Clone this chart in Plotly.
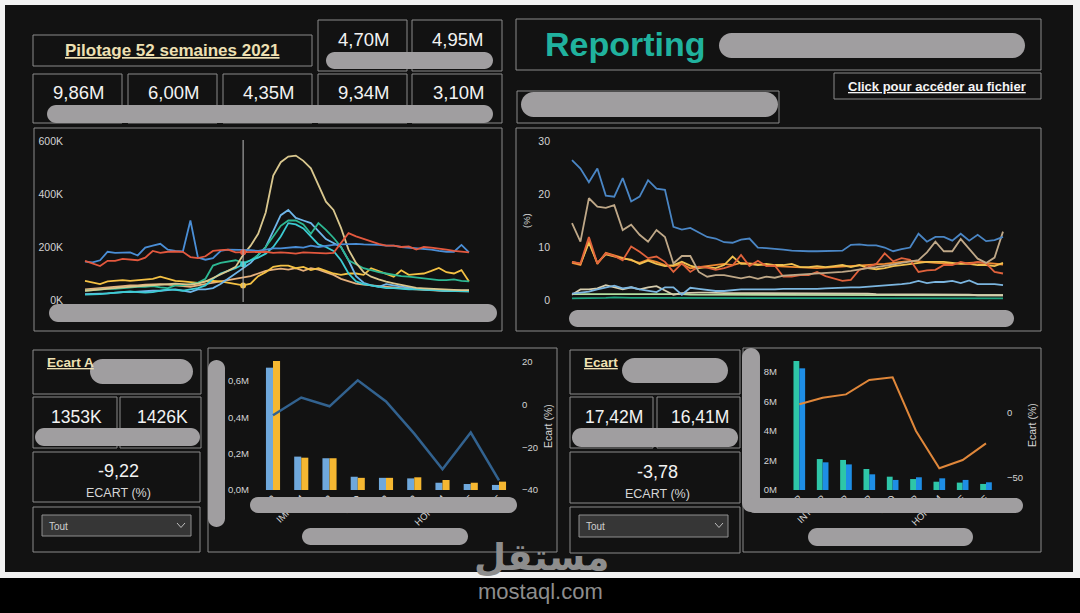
import plotly.graph_objects as go

# ---------------- DATA ----------------
weeks = list(range(1, 53))

# Top-left chart (K)
s_blue = [145,142,150,182,178,178,180,168,198,205,212,190,185,183,300,160,152,158,185,190,
          190,190,188,185,190,195,195,198,200,198,205,200,205,208,210,212,212,210,210,208,
          205,205,200,198,195,192,190,185,182,182,208,180]
s_red = [148,138,128,148,148,155,152,150,160,185,178,182,183,182,162,158,165,185,188,190,
         180,180,180,180,182,178,180,178,175,180,178,176,176,178,215,252,240,230,220,212,
         205,205,200,202,190,200,198,195,190,185,182,180]
s_tan = [35,38,40,42,45,48,50,52,55,58,60,62,62,60,58,62,70,83,95,110,
         125,170,205,250,330,470,520,541,545,525,497,434,371,340,272,190,140,105,88,78,
         69,63,57,52,46,44,42,40,38,38,37,37]
s_lblue = [22,22,24,25,28,30,30,32,34,35,35,38,40,35,30,40,40,45,60,80,
           100,120,140,170,200,260,320,340,310,300,290,260,230,215,200,150,90,65,55,50,
           60,55,50,45,42,40,38,36,35,35,35,35]
s_green = [35,38,40,42,42,45,48,50,50,52,48,45,55,55,60,65,80,130,140,145,
           150,140,150,170,200,240,280,300,300,285,250,290,265,235,200,150,135,120,113,105,
           100,95,90,88,85,80,78,75,75,78,72,70]
s_cyan = [20,20,22,25,28,30,32,30,28,30,35,40,38,35,40,45,55,80,100,110,
          120,135,150,160,175,200,240,290,285,270,240,210,200,185,150,100,70,60,55,50,
          45,45,42,40,40,38,36,36,35,34,34,33]
s_yellow = [72,65,60,70,72,75,72,75,78,80,88,80,72,70,68,65,70,72,70,65,
            60,55,62,90,105,125,130,130,120,125,113,120,110,100,95,100,100,95,120,110,
            100,88,112,95,98,100,110,121,105,100,113,70]
s_peach = [40,42,45,48,50,52,55,55,58,60,60,58,55,52,50,55,60,65,70,75,
           80,85,90,100,110,115,118,115,120,110,120,115,105,95,80,70,62,58,55,52,
           50,48,45,42,40,38,36,35,34,34,33,33]
left_ticks = [0, 200, 400, 600]
left_ticktext = ["0K", "200K", "400K", "600K"]
cursor_week = 22

# Top-right chart (%)
p_blue = [26.4,24.8,22.2,24.8,19.7,19.5,23.0,18.6,19.5,22.6,21.0,20.8,13.8,13.3,13.6,12.8,11.9,11.6,10.9,10.8,
          11.4,11.6,9.9,9.8,9.7,9.5,9.3,9.2,9.2,9.2,9.2,9.2,9.3,10.4,10.5,10.3,10.3,9.9,9.2,9.6,
          9.9,12.5,11.0,11.9,11.9,11.2,12.5,11.2,12.3,11.1,11.3,11.9]
p_tan = [14.5,11.0,19.2,17.6,17.4,17.9,13.2,14.2,12.3,11.0,13.2,11.9,6.9,8.3,8.3,5.3,4.4,4.7,4.7,4.4,
         4.1,4.4,4.0,4.4,4.2,4.6,4.7,4.8,4.8,5.0,5.1,5.2,5.3,5.5,5.8,6.0,6.2,6.4,6.7,7.0,
         7.2,7.5,9.0,11.0,9.2,9.2,11.5,9.6,7.8,7.0,8.0,12.9]
p_red = [7.2,6.9,11.9,6.9,8.8,8.3,7.5,10.1,9.1,7.9,8.2,7.2,5.3,6.9,5.3,6.3,6.1,5.7,6.0,6.5,
         8.5,6.4,7.4,6.4,6.5,4.4,4.4,4.7,4.7,5.3,4.5,4.0,3.6,3.8,5.7,6.2,6.8,8.8,7.3,7.9,
         7.6,5.3,5.6,5.7,6.6,6.6,7.2,6.8,7.2,6.9,5.3,5.0]
p_yellow = [7.2,6.8,10.8,7.0,8.6,8.2,7.8,7.6,6.8,7.4,6.8,6.4,6.6,7.2,6.5,6.0,6.2,6.0,6.6,8.2,
            6.8,6.8,6.6,6.8,6.6,6.6,6.8,6.2,6.2,6.4,6.2,6.4,6.6,6.2,6.6,6.0,5.8,6.0,6.4,6.6,
            6.8,7.0,7.2,7.2,7.2,7.0,6.8,6.8,6.6,6.6,6.4,7.0]
p_orange = [7.0,6.6,11.2,6.8,8.9,8.4,8.0,7.4,7.0,7.6,7.2,6.6,6.4,6.8,6.0,6.2,6.4,6.6,6.8,6.6,
            7.0,6.9,6.8,6.6,6.4,6.3,6.2,6.1,6.0,6.0,6.1,6.2,6.2,6.3,6.4,6.5,6.6,6.8,7.0,7.2,
            7.4,7.3,7.1,7.0,6.9,6.8,6.9,7.0,7.1,7.0,6.8,6.7]
p_lblue = [1.2,1.4,1.6,2.0,2.4,2.7,2.2,2.4,2.0,1.8,1.5,2.4,2.4,1.0,2.3,2.1,1.9,1.7,1.7,1.9,
           2.0,2.0,2.0,1.9,2.0,2.1,2.1,2.0,2.0,2.1,2.2,2.3,2.3,2.4,2.4,2.5,2.6,2.7,2.8,3.0,
           3.2,3.6,3.2,3.4,3.4,3.6,3.2,3.7,3.0,3.0,3.0,2.8]
p_beige = [1.0,2.0,2.0,2.2,2.8,2.4,2.0,2.4,2.0,2.4,2.6,1.8,1.0,1.3,1.4,1.4,1.4,1.3,1.3,1.3,
           1.3,1.3,1.3,1.2,1.2,1.2,1.2,1.2,1.2,1.2,1.2,1.2,1.2,1.2,1.2,1.2,1.1,1.1,1.1,1.0,
           1.0,1.0,1.0,1.0,1.0,1.0,1.0,1.0,0.9,0.9,0.9,0.9]
p_lgreen = [1.1,1.1,1.1,1.2,1.2,1.2,1.1,1.1,1.1,1.1,1.1,1.1,1.1,1.1,1.0,1.0,1.0,1.0,1.0,1.0,
            1.0,1.0,1.0,1.0,1.0,1.0,1.0,1.0,1.0,1.0,1.0,1.0,1.0,1.0,1.0,1.0,1.0,1.0,1.0,0.9,
            0.9,0.9,0.9,0.9,0.9,0.9,0.9,0.9,0.9,0.9,0.9,0.9]
p_teal = [0.3,0.3,0.3,0.4,0.4,0.5,0.4,0.4,0.4,0.4,0.3,0.3,0.3,0.3,0.3,0.3,0.3,0.3,0.3,0.3,
          0.3,0.3,0.3,0.3,0.3,0.3,0.3,0.3,0.3,0.3,0.3,0.3,0.3,0.3,0.3,0.3,0.3,0.3,0.3,0.3,
          0.3,0.3,0.3,0.3,0.3,0.3,0.3,0.3,0.3,0.3,0.3,0.3]
pct_ticks = [0, 10, 20, 30]

# Bottom-left combo (M, %)
cats_left = ["SUP", "IMPRIM", "SEP", "PRO", "SRP", "SAP", "HORS-M", "SEE", "SCE"]
prev_left = [0.674, 0.184, 0.175, 0.073, 0.067, 0.064, 0.040, 0.033, 0.028]
curr_left = [0.711, 0.178, 0.175, 0.067, 0.067, 0.070, 0.055, 0.040, 0.046]
ecart_left = [-5.0, 3.3, -0.8, 11.4, 1.5, -13.6, -30.3, -13.1, -35.5]
left_bar_ticks = [0, 0.2, 0.4, 0.6]
left_bar_ticktext = ["0,0M", "0,2M", "0,4M", "0,6M"]
left_ecart_ticks = [-40, -20, 0, 20]

# Bottom-right combo (M, %)
cats_right = ["SUP", "INTERP", "SEP", "SRP", "PRO", "SAP", "HORS-M", "SEE", "SCE"]
prev_right = [8.72, 2.09, 2.03, 1.42, 0.90, 0.74, 0.56, 0.50, 0.41]
curr_right = [8.22, 1.87, 1.73, 1.06, 0.68, 0.86, 0.79, 0.68, 0.52]
ecart_right = [6.5, 11.6, 14.2, 25.3, 27.4, -14.1, -43.0, -36.6, -23.7]
right_bar_ticks = [0, 2, 4, 6, 8]
right_bar_ticktext = ["0M", "2M", "4M", "6M", "8M"]
right_ecart_ticks = [-50, 0]

kpi_top = ["4,70M", "4,95M"]
kpi_row = ["9,86M", "6,00M", "4,35M", "9,34M", "3,10M"]
kpi_left = ["1353K", "1426K"]
kpi_right = ["17,42M", "16,41M"]
ecart_left_val = "-9,22"
ecart_right_val = "-3,78"

# ---------------- HELPERS ----------------
W, H = 1080, 613
FONT = "Liberation Sans, Arial, sans-serif"
BG = "#121212"
BORDER = "#8a8a8a"
GREY = "#a09ea0"
BEIGE = "#eee0b2"
TICK = "#d4d4d4"


def fx(p):
    return p / W


def fy(p):
    return 1 - p / H


shapes = []
annotations = []


def rect(x0, y0, x1, y1, line=BORDER, fill=None, width=1, layer="below"):
    shapes.append(dict(type="rect", xref="paper", yref="paper",
                       x0=fx(x0), x1=fx(x1), y0=fy(y1), y1=fy(y0),
                       line=dict(color=line, width=width) if line else dict(width=0),
                       fillcolor=fill if fill else "rgba(0,0,0,0)", layer=layer))


def pill(x0, y0, x1, y1, color=GREY):
    r = min((x1 - x0) / 2, (y1 - y0) / 2)
    k = 0.5523 * r

    def P(x, y):
        return f"{x / W:.5f},{1 - y / H:.5f}"
    d = (f"M{P(x0 + r, y0)} L{P(x1 - r, y0)} C{P(x1 - r + k, y0)} {P(x1, y0 + r - k)} {P(x1, y0 + r)} "
         f"L{P(x1, y1 - r)} C{P(x1, y1 - r + k)} {P(x1 - r + k, y1)} {P(x1 - r, y1)} "
         f"L{P(x0 + r, y1)} C{P(x0 + r - k, y1)} {P(x0, y1 - r + k)} {P(x0, y1 - r)} "
         f"L{P(x0, y0 + r)} C{P(x0, y0 + r - k)} {P(x0 + r - k, y0)} {P(x0 + r, y0)} Z")
    shapes.append(dict(type="path", xref="paper", yref="paper", path=d,
                       fillcolor=color, line=dict(width=0), layer="above"))


def line(pts, color, width=1, layer="below"):
    d = "M" + " L".join(f"{x / W:.5f},{1 - y / H:.5f}" for x, y in pts)
    shapes.append(dict(type="path", xref="paper", yref="paper", path=d,
                       line=dict(color=color, width=width), layer=layer))


def text(x, y, s, size, color="#f2f2f2", xanchor="center", angle=0, family=FONT):
    annotations.append(dict(x=fx(x), y=fy(y), xref="paper", yref="paper", text=s,
                            showarrow=False, xanchor=xanchor, yanchor="middle",
                            textangle=angle, font=dict(size=size, color=color, family=family)))


# ---------------- BACKGROUND / BOXES ----------------
rect(0, 0, 1080, 578, line=None, fill="#f2f2f2")
rect(5, 5, 1073, 572, line=None, fill=BG)

# top-left
rect(33, 35, 312, 66)
rect(318, 20, 407, 71)
rect(412, 20, 502, 71)
for bx in [(33, 122), (128, 217), (223, 312), (318, 407), (412, 502)]:
    rect(bx[0], 74, bx[1], 123)
rect(34, 128, 502, 331)
# top-right
rect(516, 19, 1041, 70)
rect(834, 73, 1041, 99)
rect(517, 91, 779, 123)
rect(516, 128, 1041, 331)
# bottom-left
rect(33, 350, 201, 394)
rect(33, 397, 117, 448)
rect(120, 397, 201, 448)
rect(33, 452, 200, 502)
rect(33, 507, 200, 552)
rect(42, 515, 191, 536, line="#8f8f8f", fill="#363636")
rect(208, 348, 557, 552)
# bottom-right
rect(570, 350, 740, 394)
rect(570, 397, 653, 448)
rect(657, 397, 740, 448)
rect(570, 452, 740, 503)
rect(570, 507, 740, 553)
rect(579, 515, 728, 537, line="#8f8f8f", fill="#363636")
rect(743, 348, 1041, 552)

# dropdown chevrons
line([(177, 523), (181, 527.5), (185, 523)], "#bdbdbd", 1)
line([(715, 523), (719, 527.5), (723, 523)], "#bdbdbd", 1)

# cursor in top-left chart
shapes.append(dict(type="line", xref="x", yref="paper", x0=cursor_week, x1=cursor_week,
                   y0=fy(302), y1=fy(140), line=dict(color="#bbbbbb", width=1), layer="above"))

# grey redaction pills
for b in [(326, 52, 493, 69), (47, 105, 493, 123), (719, 33, 1025, 58), (521, 92, 778, 117),
          (49, 304, 497, 322), (569, 310, 1014, 327), (90, 359, 193, 384), (35, 428, 200, 446),
          (208, 360, 225, 527), (250, 497, 517, 513), (302, 528, 468, 545),
          (622, 358, 728, 383), (572, 428, 738, 447), (742, 348, 760, 512),
          (747, 498, 1023, 513), (808, 528, 973, 546)]:
    pill(*b)

# ---------------- TEXT ----------------
text(172.5, 50.5, "<u><b>Pilotage 52 semaines 2021</b></u>", 17, BEIGE)
for v, cx in zip(kpi_top, [363.5, 457.5]):
    text(cx, 39, v, 18.5)
for v, cx in zip(kpi_row, [78.5, 173, 268.5, 363, 458]):
    text(cx, 92.5, v, 18.5)
text(543, 44, "<b>Reporting</b>", 34, "#20b29e", xanchor="left")
text(937, 86, "<u><b>Click pour accéder au fichier</b></u>", 13, "#f4f4f4")
text(45, 362, "<u><b>Ecart A</b></u>", 13.5, BEIGE, xanchor="left")
text(582, 362, "<u><b>Ecart</b></u>", 13.5, BEIGE, xanchor="left")
for v, cx in zip(kpi_left, [76, 162.5]):
    text(cx, 417, v, 17.5)
for v, cx in zip(kpi_right, [613.5, 700]):
    text(cx, 417, v, 17.5)
text(118, 471, ecart_left_val, 18)
text(118, 493, "ECART (%)", 12.5, "#d6d6d6")
text(657, 472, ecart_right_val, 18)
text(657, 494, "ECART (%)", 12.5, "#d6d6d6")
text(47, 526, "Tout", 10, "#cfcfcf", xanchor="left")
text(584, 526, "Tout", 10, "#cfcfcf", xanchor="left")
text(526, 221, "(%)", 9.5, TICK, angle=-90)
text(548, 426, "Ecart (%)", 10.5, TICK, angle=-90)
text(1032, 425, "Ecart (%)", 10.5, TICK, angle=-90)
# watermark
text(541, 557, "<b>مستقل</b>", 37, "#8d8d8d", family="DejaVu Sans")
text(540, 591, "mostaql.com", 22, "#8d8d8d")

# ---------------- TRACES ----------------
fig = go.Figure()

left_series = [(s_peach, "#e6b07c"), (s_yellow, "#f4c144"), (s_lblue, "#6fb6ea"),
               (s_green, "#2db893"), (s_cyan, "#3ccbd2"), (s_tan, "#d9c78e"),
               (s_blue, "#4a8ed6"), (s_red, "#e3583e")]
for ys, c in left_series:
    fig.add_trace(go.Scatter(x=weeks, y=ys, mode="lines", line=dict(color=c, width=1.8),
                             xaxis="x", yaxis="y", hoverinfo="skip"))
for ys, c in [(s_red, "#e3583e"), (s_cyan, "#3ccbd2"), (s_yellow, "#f4c144")]:
    fig.add_trace(go.Scatter(x=[cursor_week], y=[ys[cursor_week - 1]], mode="markers",
                             marker=dict(color=c, size=6), xaxis="x", yaxis="y", hoverinfo="skip"))

right_series = [(p_teal, "#1fa37f"), (p_lgreen, "#b4dfa0"), (p_beige, "#d6cdae"),
                (p_lblue, "#7cb6e0"), (p_orange, "#f08a32"), (p_yellow, "#f0c050"),
                (p_red, "#e0623c"), (p_tan, "#bfa888"), (p_blue, "#4a86c5")]
for ys, c in right_series:
    fig.add_trace(go.Scatter(x=weeks, y=ys, mode="lines", line=dict(color=c, width=1.8),
                             xaxis="x2", yaxis="y2", hoverinfo="skip"))

fig.add_trace(go.Bar(x=cats_left, y=prev_left, marker=dict(color="#6fa8dc", line=dict(width=0)),
                     xaxis="x3", yaxis="y3", offsetgroup="a", hoverinfo="skip"))
fig.add_trace(go.Bar(x=cats_left, y=curr_left, marker=dict(color="#f5b731", line=dict(width=0)),
                     xaxis="x3", yaxis="y3", offsetgroup="b", hoverinfo="skip"))
fig.add_trace(go.Scatter(x=cats_left, y=ecart_left, mode="lines", line=dict(color="#32628f", width=2.5),
                         xaxis="x3", yaxis="y4", hoverinfo="skip"))

fig.add_trace(go.Bar(x=cats_right, y=prev_right, marker=dict(color="#2ec6a8", line=dict(width=0)),
                     xaxis="x5", yaxis="y5", offsetgroup="a", hoverinfo="skip"))
fig.add_trace(go.Bar(x=cats_right, y=curr_right, marker=dict(color="#1e8ee6", line=dict(width=0)),
                     xaxis="x5", yaxis="y5", offsetgroup="b", hoverinfo="skip"))
fig.add_trace(go.Scatter(x=cats_right, y=ecart_right, mode="lines", line=dict(color="#e0873a", width=2),
                         xaxis="x5", yaxis="y6", hoverinfo="skip"))

tickfont = dict(family=FONT, size=10.5, color=TICK)
smallfont = dict(family=FONT, size=9.5, color=TICK)
noax = dict(showgrid=False, zeroline=False, showline=False, ticks="", automargin=False)

fig.update_layout(
    width=W, height=613, autosize=False,
    margin=dict(l=0, r=0, t=0, b=0, pad=0, autoexpand=False),
    paper_bgcolor="#000000", plot_bgcolor="rgba(0,0,0,0)",
    showlegend=False, barmode="group", bargap=0.5, bargroupgap=0,
    shapes=shapes, annotations=annotations,
    xaxis=dict(domain=[fx(64), fx(480)], range=[1 - 21 / 7.53, 52 + 11 / 7.53],
               showticklabels=False, anchor="y", **noax),
    yaxis=dict(domain=[fy(300), fy(141)], range=[0, 600], tickvals=left_ticks,
               ticktext=left_ticktext, tickfont=tickfont, anchor="x", **noax),
    xaxis2=dict(domain=[fx(551), fx(1010)], range=[1 - 21 / 8.45, 52 + 7 / 8.45],
                showticklabels=False, anchor="y2", **noax),
    yaxis2=dict(domain=[fy(300), fy(141)], range=[0, 30], tickvals=pct_ticks,
                tickfont=tickfont, anchor="x2", **noax),
    xaxis3=dict(domain=[fx(250), fx(521)], range=[-23 / 28.25, 8 + 22 / 28.25],
                type="category", tickangle=-45, tickfont=smallfont,
                anchor="y3", **noax),
    yaxis3=dict(domain=[fy(490), fy(358)], range=[0, 0.7273], tickvals=left_bar_ticks,
                ticktext=left_bar_ticktext, tickfont=smallfont,
                anchor="x3", **noax),
    yaxis4=dict(overlaying="y3", side="right", anchor="x3", range=[-40, 21.83],
                tickvals=left_ecart_ticks, tickfont=smallfont, **noax),
    xaxis5=dict(domain=[fx(778), fx(1006)], range=[-21.3 / 23.33, 8 + 20 / 23.33],
                type="category", tickangle=-45, tickfont=smallfont,
                anchor="y5", **noax),
    yaxis5=dict(domain=[fy(490), fy(355)], range=[0, 9.12], tickvals=right_bar_ticks,
                ticktext=right_bar_ticktext, tickfont=smallfont,
                anchor="x5", **noax),
    yaxis6=dict(overlaying="y5", side="right", anchor="x5", range=[-59.8, 44.66],
                tickvals=right_ecart_ticks, tickfont=smallfont, **noax),
)

fig.write_html("out.html", config={"displayModeBar": False},
               post_script="document.body.style.margin='0';document.body.style.background='#000';")
